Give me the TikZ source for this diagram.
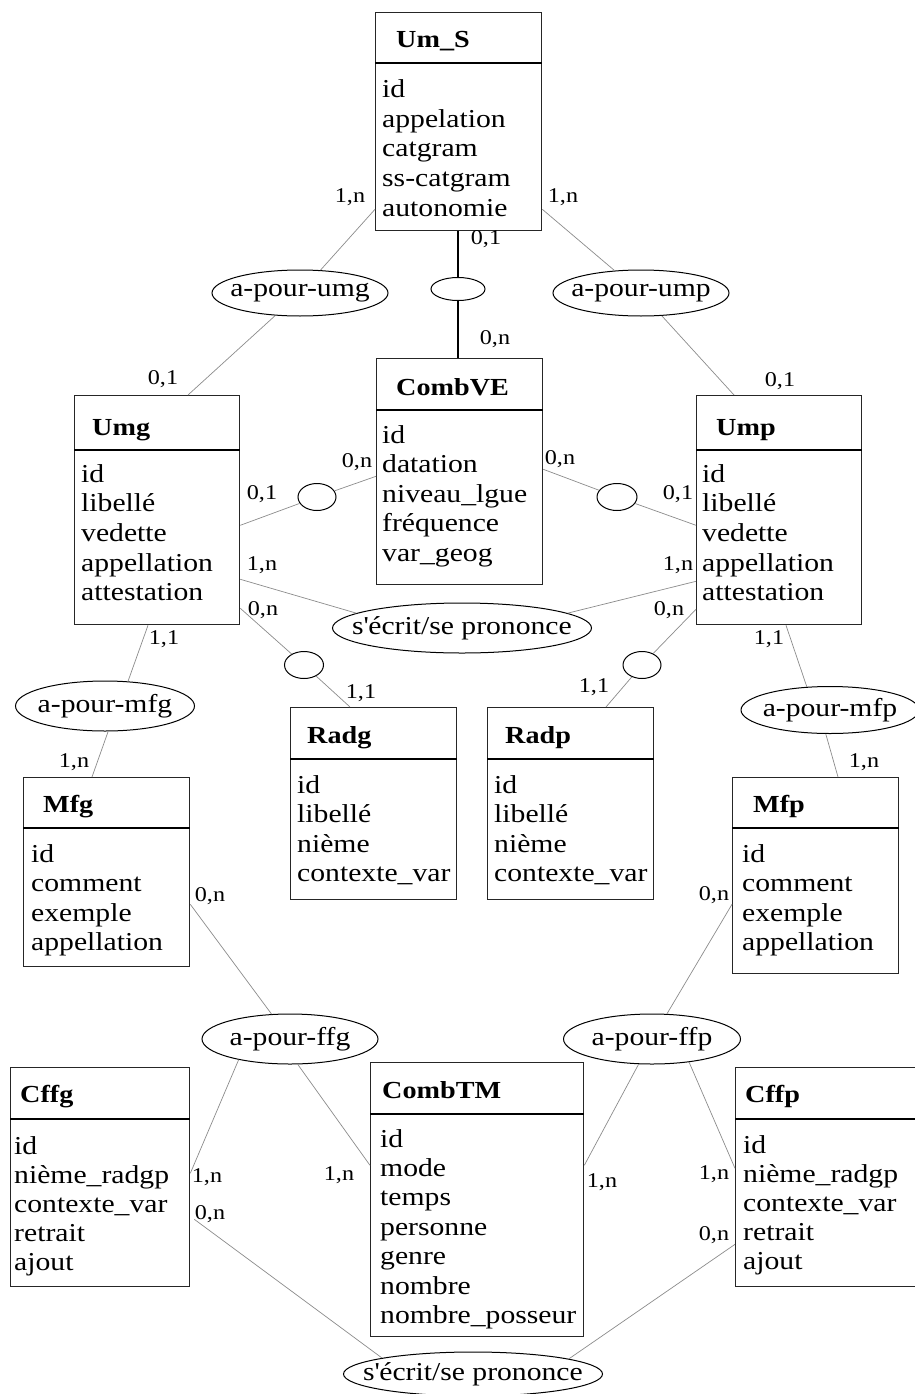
\documentclass[tikz,border=0pt]{standalone}
\usepackage{fontspec}
\setmainfont[FakeStretch=1.15]{Liberation Serif}
\usetikzlibrary{shapes.geometric}
\tikzset{
  entbox/.style={draw=black!85, line width=1.3pt, inner sep=0pt, anchor=north west},
  hline/.style={draw=black, line width=1.1pt},
  ttl/.style={font=\fontsize{24.5}{29}\selectfont\bfseries, anchor=base west, inner sep=0pt},
  attr/.style={font=\fontsize{25.8}{29}\selectfont, anchor=base west, inner sep=0pt},
  rel/.style={ellipse, draw=black, line width=1pt, inner sep=0pt},
  reltxt/.style={font=\fontsize{25.8}{29}\selectfont, inner sep=0pt},
  card/.style={font=\fontsize{21}{25}\selectfont, anchor=base, inner sep=0pt},
  conn/.style={draw=black!45, line width=0.7pt},
  strong/.style={draw=black, line width=1.2pt},
}
\newcommand\attrset[5]{%
  \foreach \t [count=\i from 0] in {#5} {\node[attr] (#1-\i) at (#2, {#3+#4*\i}) {\t};}}
\begin{document}
\begin{tikzpicture}[x=1pt,y=-1pt]
\useasboundingbox (0,0) rectangle (914,1394);
\fill[white] (0,0) rectangle (914,1394);

% ---------- entities ----------
\node[entbox, minimum width=166, minimum height=218] (ums) at (375,12) {};
\draw[hline] ([yshift=-51]ums.north west) -- ([yshift=-51]ums.north east);
\node[ttl] (ums-t) at (396,48) {Um\_S};
\attrset{ums}{382}{98}{29.5}{id,appelation,catgram,ss-catgram,autonomie}

\node[entbox, minimum width=166, minimum height=226] (combve) at (376,358) {};
\draw[hline] ([yshift=-52]combve.north west) -- ([yshift=-52]combve.north east);
\node[ttl] (combve-t) at (396,395) {CombVE};
\attrset{combve}{382}{443}{29.5}{id,datation,niveau\_lgue,fréquence,var\_geog}

\node[entbox, minimum width=165, minimum height=229] (umg) at (74,395) {};
\draw[hline] ([yshift=-55]umg.north west) -- ([yshift=-55]umg.north east);
\node[ttl] (umg-t) at (92,435) {Umg};
\attrset{umg}{81}{482}{29.7}{id,libellé,vedette,appellation,attestation}

\node[entbox, minimum width=165, minimum height=229] (ump) at (696,395) {};
\draw[hline] ([yshift=-55]ump.north west) -- ([yshift=-55]ump.north east);
\node[ttl] (ump-t) at (716,435) {Ump};
\attrset{ump}{702}{482}{29.7}{id,libellé,vedette,appellation,attestation}

\node[entbox, minimum width=166, minimum height=192] (radg) at (290,707) {};
\draw[hline] ([yshift=-52]radg.north west) -- ([yshift=-52]radg.north east);
\node[ttl] (radg-t) at (307,743) {Radg};
\attrset{radg}{297}{793}{29.5}{id,libellé,nième,contexte\_var}

\node[entbox, minimum width=166, minimum height=192] (radp) at (487,707) {};
\draw[hline] ([yshift=-52]radp.north west) -- ([yshift=-52]radp.north east);
\node[ttl] (radp-t) at (505,743) {Radp};
\attrset{radp}{494}{793}{29.5}{id,libellé,nième,contexte\_var}

\node[entbox, minimum width=166, minimum height=189] (mfg) at (23,777) {};
\draw[hline] ([yshift=-51]mfg.north west) -- ([yshift=-51]mfg.north east);
\node[ttl] (mfg-t) at (43,812) {Mfg};
\attrset{mfg}{31}{862}{29.5}{id,comment,exemple,appellation}

\node[entbox, minimum width=166, minimum height=196] (mfp) at (732,777) {};
\draw[hline] ([yshift=-51]mfp.north west) -- ([yshift=-51]mfp.north east);
\node[ttl] (mfp-t) at (753,812) {Mfp};
\attrset{mfp}{742}{862}{29.5}{id,comment,exemple,appellation}

\node[entbox, minimum width=179, minimum height=219] (cffg) at (10,1067) {};
\draw[hline] ([yshift=-52]cffg.north west) -- ([yshift=-52]cffg.north east);
\node[ttl] (cffg-t) at (20,1102) {Cffg};
\attrset{cffg}{14}{1154}{29}{id,nième\_radgp,contexte\_var,retrait,ajout}

\node[entbox, minimum width=213, minimum height=274] (combtm) at (370,1062) {};
\draw[hline] ([yshift=-52]combtm.north west) -- ([yshift=-52]combtm.north east);
\node[ttl] (combtm-t) at (382,1098) {CombTM};
\attrset{combtm}{380}{1147}{29.4}{id,mode,temps,personne,genre,nombre,nombre\_posseur}

\node[entbox, minimum width=180, minimum height=219] (cffp) at (735,1067) {};
\draw[hline] ([yshift=-52]cffp.north west) -- ([yshift=-52]cffp.north east);
\node[ttl] (cffp-t) at (745,1102) {Cffp};
\attrset{cffp}{743}{1153}{29}{id,nième\_radgp,contexte\_var,retrait,ajout}

% ---------- relations ----------
\node[rel, minimum width=176, minimum height=46] (apumg) at (300,293) {};
\node[reltxt] (apumg-t) at (apumg) {a-pour-umg};
\node[rel, minimum width=54, minimum height=23] (sA) at (458,289) {};
\node[rel, minimum width=176, minimum height=46] (apump) at (641,293) {};
\node[reltxt] (apump-t) at (apump) {a-pour-ump};
\node[rel, minimum width=38, minimum height=27] (sB) at (317,497) {};
\node[rel, minimum width=40, minimum height=27] (sC) at (617,497) {};
\node[rel, minimum width=259, minimum height=50] (secrit1) at (462,628) {};
\node[reltxt] (secrit1-t) at (secrit1) {s\textquotesingle écrit/se prononce};
\node[rel, minimum width=39, minimum height=27] (sD) at (304,665) {};
\node[rel, minimum width=38, minimum height=27] (sE) at (642,665) {};
\node[rel, minimum width=179, minimum height=50] (apmfg) at (105,706) {};
\node[reltxt] (apmfg-t) at (apmfg) {a-pour-mfg};
\node[rel, minimum width=178, minimum height=47] (apmfp) at (830,710) {};
\node[reltxt] (apmfp-t) at (apmfp) {a-pour-mfp};
\node[rel, minimum width=176, minimum height=50] (apffg) at (290,1039) {};
\node[reltxt] (apffg-t) at (apffg) {a-pour-ffg};
\node[rel, minimum width=177, minimum height=50] (apffp) at (652,1039) {};
\node[reltxt] (apffp-t) at (apffp) {a-pour-ffp};
\node[rel, minimum width=259, minimum height=44] (secrit2) at (473,1374) {};
\node[reltxt] (secrit2-t) at (secrit2) {s\textquotesingle écrit/se prononce};

% ---------- connectors ----------
\draw[conn] ([yshift=22]ums.south west) -- (apumg);
\draw[conn] (apumg) -- ([xshift=114]umg.north west);
\draw[conn] ([yshift=22]ums.south east) -- (apump);
\draw[conn] (apump) -- ([xshift=38]ump.north west);
\draw[strong] (ums.south -| sA) -- (sA.north);
\draw[strong] (sA.south) -- (combve.north -| sA);
\draw[conn] ([yshift=100]umg.south east) -- (sB);
\draw[conn] (sB) -- ([yshift=109]combve.south west);
\draw[conn] ([yshift=116]combve.south east) -- (sC);
\draw[conn] (sC) -- ([yshift=100]ump.south west);
\draw[conn] ([yshift=46]umg.south east) -- (secrit1.172);
\draw[conn] ([yshift=44]ump.south west) -- (secrit1.8);
\draw[conn] ([yshift=17]umg.south east) -- (sD);
\draw[conn] (sD) -- ([xshift=60]radg.north west);
\draw[conn] ([yshift=16]ump.south west) -- (sE);
\draw[conn] (sE) -- ([xshift=119]radp.north west);
\draw[conn] ([xshift=74]umg.south west) -- (apmfg.47);
\draw[conn] (apmfg.-83) -- ([xshift=69]mfg.north west);
\draw[conn] ([xshift=90]ump.south west) -- (apmfp.135);
\draw[conn] (apmfp.-100) -- ([xshift=106]mfp.north west);
\draw[conn] ([yshift=63]mfg.south east) -- (apffg);
\draw[conn] ([yshift=70]mfp.south west) -- (apffp);
\draw[conn] (apffg.202) -- ([yshift=114]cffg.south east);
\draw[conn] (apffg.-73) -- ([yshift=172]combtm.south west);
\draw[conn] (apffp.-118) -- ([yshift=172]combtm.south east);
\draw[conn] (apffp.-32) -- ([yshift=119]cffp.south west);
\draw[conn] ([xshift=4,yshift=68]cffg.south east) -- (secrit2.170);
\draw[conn] ([yshift=43]cffp.south west) -- (secrit2.9);

% ---------- cardinalities ----------
\foreach \nm/\x/\y/\t in {
  c1/350/195/{1,n}, c2/563/195/{1,n}, c3/486/237/{0,1}, c4/495/337/{0,n},
  c5/163/377/{0,1}, c6/780/379/{0,1}, c7/357/460/{0,n}, c8/262/492/{0,1},
  c9/560/457/{0,n}, c10/678/492/{0,1}, c11/262/563/{1,n}, c12/678/563/{1,n},
  c13/263/608/{0,n}, c14/669/608/{0,n}, c15/164/637/{1,1}, c16/769/637/{1,1},
  c17/361/691/{1,1}, c18/594/685/{1,1}, c19/74/760/{1,n}, c20/864/760/{1,n},
  c21/210/894/{0,n}, c22/714/893/{0,n}, c23/207/1175/{1,n}, c24/210/1212/{0,n},
  c25/339/1173/{1,n}, c26/602/1180/{1,n}, c27/714/1172/{1,n}, c28/714/1233/{0,n}}
  {\node[card] (\nm) at (\x, \y+7) {\t};}
\end{tikzpicture}
\end{document}
